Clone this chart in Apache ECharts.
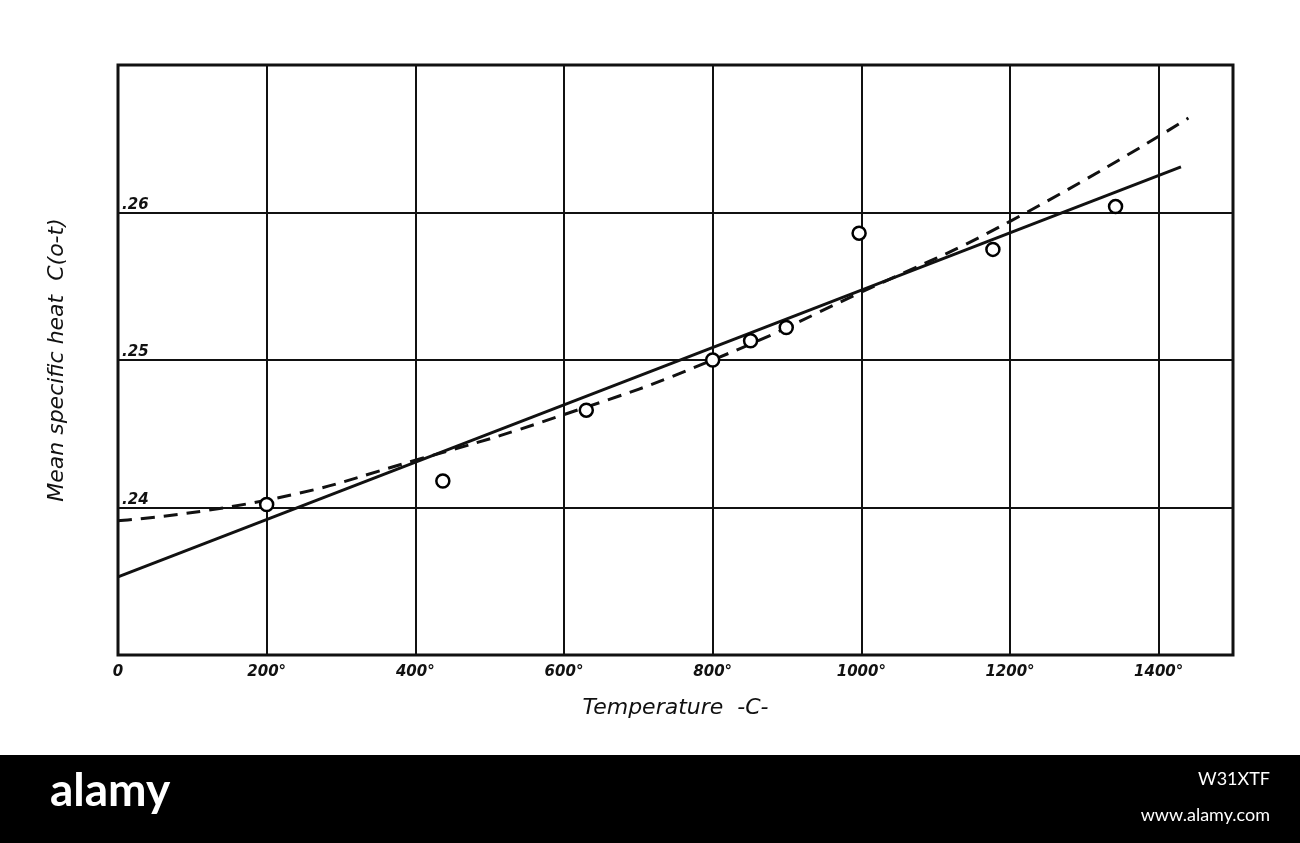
<!DOCTYPE html>
<html><head><meta charset="utf-8">
<script src="https://cdn.jsdelivr.net/npm/echarts@6/dist/echarts.min.js"></script>
<style>html,body{margin:0;padding:0;background:#fff}#c{width:1300px;height:843px}</style>
</head><body><div id="c"></div>
<script>
// measured points (temperature, mean specific heat)
const pointTemps = [200, 437, 630, 800, 851, 899, 997, 1177, 1342]
const pointHeat = [0.2402, 0.2418, 0.2466, 0.2500, 0.2513, 0.2522, 0.2586, 0.2575, 0.2604]
// straight fit
const solidTemps = [0, 1430]
const solidHeat = [0.2353, 0.2631]
// curved fit (dashed)
const dashTemps = [0, 200, 400, 600, 800, 1000, 1200, 1440]
const dashHeat = [0.2391, 0.2405, 0.2432, 0.2463, 0.2500, 0.2546, 0.2594, 0.2664]
const yTicks = [0.24, 0.25, 0.26]

const zip = (a, b) => a.map((v, i) => [v, b[i]])
const chart = echarts.init(document.getElementById('c'))
const font = { fontFamily: 'DejaVu Sans', fontStyle: 'italic', fontWeight: 'bold', color: '#111' }

chart.setOption({
    backgroundColor: '#fff',
    animation: false,
    grid: { left: 118, right: 67, top: 65, bottom: 188, show: true, borderColor: '#111', borderWidth: 3 },
    xAxis: {
        type: 'value', min: 0, max: 1500, interval: 200,
        axisLine: { show: false }, axisTick: { show: false },
        splitLine: { lineStyle: { color: '#111', width: 2 } },
        axisLabel: { ...font, fontSize: 15, margin: 10, formatter: v => v === 0 ? '0' : (v > 1400 ? '' : v + '°') },
        name: 'Temperature  -C-', nameLocation: 'middle', nameGap: 42,
        nameTextStyle: { ...font, fontSize: 22, fontWeight: 'normal' }
    },
    yAxis: {
        type: 'value', min: 0.23, max: 0.27, interval: 0.01,
        axisLine: { show: false }, axisTick: { show: false },
        splitLine: { lineStyle: { color: '#111', width: 2 } },
        axisLabel: {
            ...font, fontSize: 15, inside: true, margin: 4, verticalAlign: 'bottom',
            formatter: v => yTicks.some(t => Math.abs(t - v) < 1e-6) ? v.toFixed(2).slice(1) : ''
        },
        name: 'Mean specific heat  C(o-t)', nameLocation: 'middle', nameGap: 50,
        nameTextStyle: { ...font, fontSize: 22, fontWeight: 'normal' }
    },
    series: [
        { type: 'line', data: zip(solidTemps, solidHeat), symbol: 'none', lineStyle: { color: '#111', width: 3 } },
        { type: 'line', data: zip(dashTemps, dashHeat), smooth: true, symbol: 'none',
          lineStyle: { color: '#111', width: 3, type: [14, 9] } },
        { type: 'scatter', data: zip(pointTemps, pointHeat), symbol: 'circle', symbolSize: 13,
          itemStyle: { color: '#fff', borderColor: '#000', borderWidth: 2.5, opacity: 1 }, z: 5 }
    ],
    graphic: [
        { type: 'rect', shape: { x: 0, y: 755, width: 1300, height: 88 }, style: { fill: '#000' } },
        { type: 'text', left: 50, top: 768, style: { text: 'alamy', fill: '#fff', font: 'bold 46px Lato' } },
        { type: 'text', right: 30, top: 770, style: { text: 'W31XTF', fill: '#fff', font: '18px Lato' } },
        { type: 'text', right: 30, top: 806, style: { text: 'www.alamy.com', fill: '#fff', font: '18px Lato' } }
    ]
})
</script></body></html>
